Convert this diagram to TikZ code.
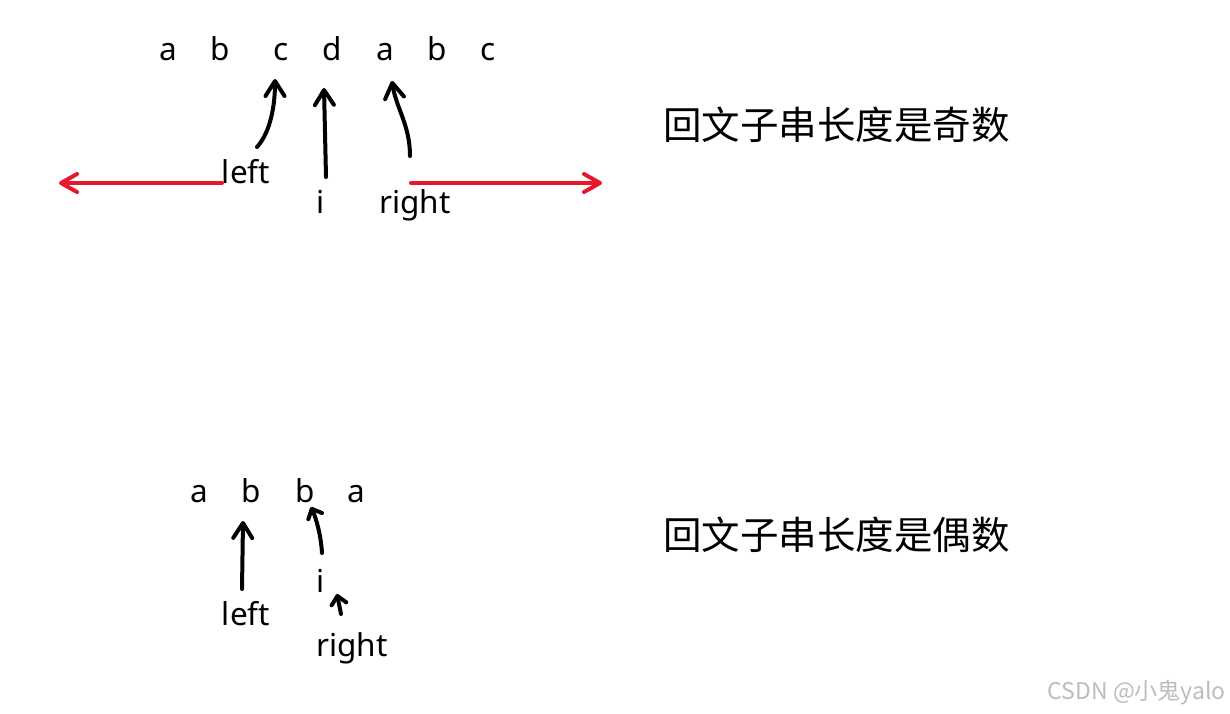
\documentclass[tikz,border=0pt]{standalone}
\usepackage{fontspec}
\setmainfont{Noto Sans}
\newfontfamily\cjk{Noto Sans CJK SC}
\usetikzlibrary{arrows.meta}
\definecolor{arrred}{HTML}{E8182C}
\definecolor{wmgray}{HTML}{BDBDBD}
\tikzset{
  letter/.style={inner sep=0pt, anchor=base, font=\fontsize{31.5}{31.5}\selectfont},
  label/.style={inner sep=0pt, anchor=base, font=\fontsize{31.5}{31.5}\selectfont},
  title/.style={inner sep=0pt, anchor=west, font=\cjk\fontsize{38.5}{38.5}\selectfont},
  pointer/.style={line width=4pt, line cap=round, line join=round, black,
    -{Straight Barb[length=15pt, width=19pt, line cap=round, line join=round]}},
  smallpointer/.style={line width=4pt, line cap=round, line join=round, black,
    -{Straight Barb[length=8pt, width=15pt, line cap=round, line join=round]}},
  scan/.style={line width=4pt, line cap=round, arrred,
    -{Straight Barb[length=16pt, width=18pt, line cap=round, line join=round]}},
}
\begin{document}
\begin{tikzpicture}[x=1pt, y=-1pt]
\useasboundingbox (0,0) rectangle (1230,713);
\fill[white] (0,0) rectangle (1230,713);

% ---- odd case ----
\node[letter] (t1) at (168,60) {a};
\node[letter] (t2) at (220,60) {b};
\node[letter] (t3) at (281,60) {c};
\node[letter] (t4) at (332,60) {d};
\node[letter] (t5) at (385,60) {a};
\node[letter] (t6) at (437,60) {b};
\node[letter] (t7) at (488,60) {c};

\node[label] (lft1) at (246,183) {left};
\node[label] (i1) at (321,213) {i};
\node[label] (rgt1) at (415,213) {right};

\coordinate (la1) at (257,147);
\coordinate (lt1) at (275,79);
\coordinate (ia1) at (326,177);
\coordinate (it1) at (324,88);
\coordinate (ra1) at (410,156);
\coordinate (rt1) at (392,81);
\draw[pointer] (la1) .. controls (268,135) and (275,112) .. (lt1);
\draw[pointer] (ia1) -- (it1);
\draw[pointer] (ra1) .. controls (410,125) and (396,108) .. (rt1);

\coordinate (rl0) at (222,183);
\coordinate (rl1) at (59,183);
\coordinate (rr0) at (411,183);
\coordinate (rr1) at (602,183);
\draw[scan] (rl0) -- (rl1);
\draw[scan] (rr0) -- (rr1);

\node[title] (odd) at (663,125) {回文子串长度是奇数};

% ---- even case ----
\node[letter] (b1) at (199,502) {a};
\node[letter] (b2) at (251,502) {b};
\node[letter] (b3) at (305,502) {b};
\node[letter] (b4) at (356,502) {a};

\node[label] (lft2) at (246,625) {left};
\node[label] (i2) at (321,592) {i};
\node[label] (rgt2) at (352,656) {right};

\coordinate (la2) at (242,589);
\coordinate (lt2) at (243,521);
\coordinate (ia2) at (322,553);
\coordinate (it2) at (311,507);
\coordinate (ra2) at (341,614);
\coordinate (rt2) at (337,594);
\draw[pointer] (la2) -- (lt2);
\draw[smallpointer] (ia2) .. controls (321,535) and (316,518) .. (it2);
\draw[smallpointer] (ra2) -- (rt2);

\node[title] (even) at (663,535) {回文子串长度是偶数};

% watermark
\node[inner sep=0pt, anchor=east, text=wmgray, font=\cjk\fontsize{23}{23}\selectfont] (wm) at (1226,692) {CSDN @小鬼yalo};
\end{tikzpicture}
\end{document}
